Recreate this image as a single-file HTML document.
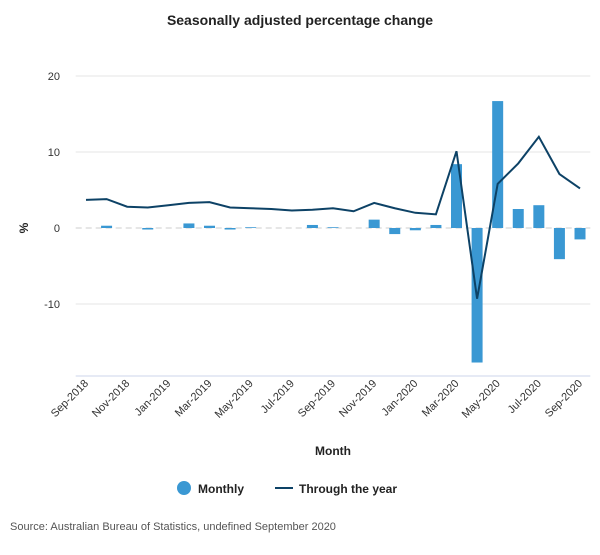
<!DOCTYPE html>
<html><head><meta charset="utf-8"><style>
body{margin:0;background:#fff;font-family:"Liberation Sans",sans-serif;}
</style></head><body>
<svg width="600" height="550" xmlns="http://www.w3.org/2000/svg" id="chart">
<text x="300" y="25" text-anchor="middle" font-size="14" font-weight="bold" fill="#222">Seasonally adjusted percentage change</text>
<g id="grid"></g><g id="bars"></g><g id="line"></g><g id="xaxis"></g>
<text x="28" y="228" text-anchor="middle" font-size="12" font-weight="bold" fill="#222" transform="rotate(-90 28 228)">%</text>
<text x="333" y="455" text-anchor="middle" font-size="12" font-weight="bold" fill="#222">Month</text>
<g><circle cx="184" cy="488" r="7" fill="#3a98d3"/><text x="198" y="493" font-size="12" font-weight="bold" fill="#222">Monthly</text></g>
<g><line x1="275" y1="488" x2="293" y2="488" stroke="#0d4266" stroke-width="2"/><text x="299" y="493" font-size="12" font-weight="bold" fill="#222">Through the year</text></g>
<text x="10" y="530" font-size="11" fill="#555">Source: Australian Bureau of Statistics, undefined September 2020</text>
</svg>
<script>
const categories=["Sep-2018","Oct-2018","Nov-2018","Dec-2018","Jan-2019","Feb-2019","Mar-2019","Apr-2019","May-2019","Jun-2019","Jul-2019","Aug-2019","Sep-2019","Oct-2019","Nov-2019","Dec-2019","Jan-2020","Feb-2020","Mar-2020","Apr-2020","May-2020","Jun-2020","Jul-2020","Aug-2020","Sep-2020"];
const monthly=[0,0.3,0,-0.2,0,0.6,0.3,-0.2,0.1,0,0,0.4,0.1,0,1.1,-0.8,-0.3,0.4,8.4,-17.7,16.7,2.5,3.0,-4.1,-1.5];
const throughYear=[3.7,3.8,2.8,2.7,3.0,3.3,3.4,2.7,2.6,2.5,2.3,2.4,2.6,2.2,3.3,2.6,2.0,1.8,10.1,-9.3,5.8,8.5,12.0,7.1,5.2];
const yTicks=[20,10,0,-10];
const NS="http://www.w3.org/2000/svg";
const left=75.7,right=590.3,bw=(right-left)/categories.length;
const x=i=>left+bw*(i+0.5);
const y=v=>228-v*7.6;
function mk(t,a,p){const e=document.createElementNS(NS,t);for(const k in a)e.setAttribute(k,a[k]);p.appendChild(e);return e;}
const grid=document.getElementById('grid');
yTicks.forEach(t=>{
 const l=mk('line',{x1:left,x2:right,y1:y(t),y2:y(t),stroke:t===0?'#ccc':'#e6e6e6','stroke-dasharray':t===0?'6,4':'none'},grid);
 
 
 const tx=mk('text',{x:60,y:y(t)+4,'text-anchor':'end','font-size':11,fill:'#333'},grid);
 tx.textContent=t;
 
 
});
const xa=document.getElementById('xaxis');
const ax=mk('line',{x1:left,x2:right,y1:376,y2:376,stroke:'#ccd6eb'},xa);


categories.forEach((c,i)=>{
 if(i%2)return;
 const tx=mk('text',{x:x(i)+3,y:384,'text-anchor':'end','font-size':11,fill:'#333',transform:`rotate(-45 ${x(i)+3} 384)`},xa);
 tx.textContent=c;
 
 
});
const bars=document.getElementById('bars');
monthly.forEach((v,i)=>{
 const r=mk('rect',{x:x(i)-5.5,width:11,y:Math.min(y(v),y(0)),height:Math.abs(y(v)-y(0)),fill:'#3a98d3'},bars);
 
 
});
const pl=mk('polyline',{points:throughYear.map((v,i)=>x(i)+','+y(v)).join(' '),fill:'none',stroke:'#0d4266','stroke-width':2},document.getElementById('line'));


</script>
</body></html>
